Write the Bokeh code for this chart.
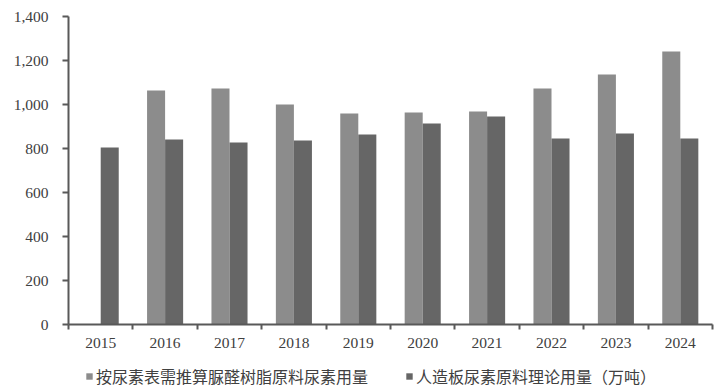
from bokeh.plotting import figure
from bokeh.layouts import column
from bokeh.models import Range1d, FixedTicker, Legend, LegendItem
from bokeh.embed import file_html
from bokeh.resources import INLINE

years = ["2015", "2016", "2017", "2018", "2019", "2020", "2021", "2022", "2023", "2024"]
resin_urea = [None, 1064, 1073, 1000, 959, 964, 968, 1073, 1136, 1241]
board_urea = [805, 841, 827, 836, 864, 914, 945, 845, 868, 845]
series_names = ["按尿素表需推算脲醛树脂原料尿素用量", "人造板尿素原料理论用量（万吨）"]
y_ticks = [0, 200, 400, 600, 800, 1000, 1200, 1400]

LIGHT = "#8c8c8c"
DARK = "#666666"
AXIS = "#595959"
TXT = "#404040"
BW = 0.28

p = figure(width=715, height=356, output_backend="svg", toolbar_location=None,
           x_range=Range1d(0, len(years)), y_range=Range1d(0, 1400),
           min_border_left=68, min_border_right=3, min_border_top=16,
           min_border_bottom=32)
p.outline_line_color = None
p.xgrid.visible = False
p.ygrid.visible = False

xl = [i + 0.5 - BW / 2 for i, v in enumerate(resin_urea) if v is not None]
yl = [v for v in resin_urea if v is not None]
xd = [i + 0.5 + BW / 2 for i in range(len(years))]

r1 = p.vbar(x=xl, top=yl, width=BW, bottom=0, fill_color=LIGHT, line_color=None)
r2 = p.vbar(x=xd, top=board_urea, width=BW, bottom=0, fill_color=DARK, line_color=None)

# x axis
xa = p.xaxis[0]
xa.ticker = FixedTicker(ticks=[i + 0.5 for i in range(len(years))],
                        minor_ticks=list(range(len(years) + 1)))
xa.major_label_overrides = {i + 0.5: y for i, y in enumerate(years)}
xa.major_tick_out = 0
xa.major_tick_in = 0
xa.minor_tick_out = 5
xa.minor_tick_in = 0
xa.minor_tick_line_color = AXIS
xa.minor_tick_line_width = 2
xa.axis_line_color = AXIS
xa.axis_line_width = 2
xa.major_label_text_font = "Liberation Serif"
xa.major_label_text_font_size = "15.5px"
xa.major_label_text_color = TXT
xa.major_label_standoff = 8

ya = p.yaxis[0]
ya.ticker = FixedTicker(ticks=y_ticks, minor_ticks=[])
ya.major_label_overrides = {t: f"{t:,}" for t in y_ticks}
ya.major_tick_out = 6
ya.major_tick_in = 0
ya.major_tick_line_color = AXIS
ya.major_tick_line_width = 2
ya.axis_line_color = AXIS
ya.axis_line_width = 2
ya.major_label_text_font = "Liberation Serif"
ya.major_label_text_font_size = "15.5px"
ya.major_label_text_color = TXT
ya.major_label_standoff = 14

# legend strip (separate figure below the chart); swatch glyphs lie outside its ranges
p2 = figure(width=715, height=34, output_backend="svg", toolbar_location=None,
            x_range=Range1d(0, 1), y_range=Range1d(0, 1),
            x_axis_type=None, y_axis_type=None,
            min_border_left=0, min_border_right=0, min_border_top=0, min_border_bottom=0)
p2.outline_line_color = None
g1 = p2.vbar(x=[-5], top=[-5], bottom=[-6], width=1, fill_color=LIGHT, line_color=None)
g2 = p2.vbar(x=[-5], top=[-5], bottom=[-6], width=1, fill_color=DARK, line_color=None)

legend = Legend(items=[LegendItem(label=series_names[0], renderers=[g1]),
                       LegendItem(label=series_names[1], renderers=[g2])],
                orientation="horizontal", location=(17, 2),
                glyph_width=8, glyph_height=8, label_standoff=3, spacing=37,
                label_text_font="Noto Sans CJK SC", label_text_font_size="16px",
                label_text_color=TXT, border_line_color=None,
                background_fill_alpha=0, padding=0, margin=0)
p2.add_layout(legend, "center")

layout = column(p, p2, spacing=0)
open("out.html", "w").write(file_html(layout, INLINE))
